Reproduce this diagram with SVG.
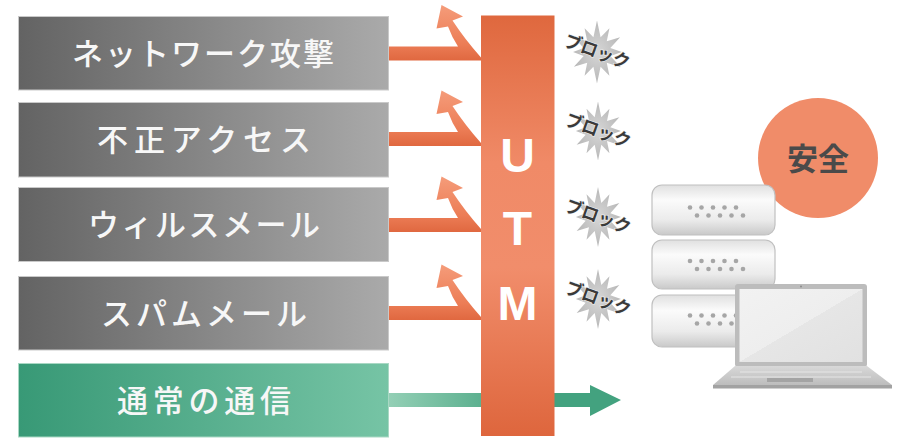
<svg xmlns="http://www.w3.org/2000/svg" xmlns:xlink="http://www.w3.org/1999/xlink" width="900" height="438" viewBox="0 0 900 438">
  <defs>
    <style>
      .threat { stroke: #c9c9c9; stroke-width: 1; }
      .label { font-family: "Noto Sans CJK JP", "Noto Sans", sans-serif; font-size: 31px; font-weight: 500; fill: #f7f7f7; text-anchor: middle; }
      .utm-letter { font-family: "Liberation Sans", Arial, sans-serif; font-size: 48px; font-weight: bold; fill: #ffffff; text-anchor: middle; }
      .block-text { font-family: "Noto Sans CJK JP", sans-serif; font-size: 18px; font-weight: bold; fill: #3a3a3a; stroke: #eeeeee; stroke-width: 1.2; paint-order: stroke; text-anchor: middle; }
      .burst { fill: url(#burstFill); }
      .server { fill: url(#serverFill); stroke: #c0c0c0; stroke-width: 1.2; }
      .led { fill: #a6a6a6; }
    </style>
    <linearGradient id="grayFill" x1="0" y1="0" x2="1" y2="0">
      <stop offset="0" stop-color="#636363"/>
      <stop offset="1" stop-color="#aaaaaa"/>
    </linearGradient>
    <linearGradient id="greenFill" x1="0" y1="0" x2="1" y2="0">
      <stop offset="0" stop-color="#389976"/>
      <stop offset="1" stop-color="#76c4a5"/>
    </linearGradient>
    <linearGradient id="utmFill" x1="0" y1="0" x2="0" y2="1">
      <stop offset="0" stop-color="#df683e"/>
      <stop offset="0.35" stop-color="#f08a67"/>
      <stop offset="0.6" stop-color="#f18d6b"/>
      <stop offset="1" stop-color="#de663d"/>
    </linearGradient>
    <linearGradient id="deflectFill" x1="0" y1="0" x2="0" y2="1">
      <stop offset="0" stop-color="#f59c7a"/>
      <stop offset="0.7" stop-color="#ec7d56"/>
      <stop offset="1" stop-color="#e06840"/>
    </linearGradient>
    <linearGradient id="passFill" x1="0" y1="0" x2="1" y2="0">
      <stop offset="0" stop-color="#93cfb5"/>
      <stop offset="1" stop-color="#5cb08f"/>
    </linearGradient>
    <radialGradient id="burstFill" cx="0.5" cy="0.5" r="0.5">
      <stop offset="0" stop-color="#d6d6d6"/>
      <stop offset="1" stop-color="#b8b8b8"/>
    </radialGradient>
    <linearGradient id="serverFill" x1="0" y1="0" x2="0" y2="1">
      <stop offset="0" stop-color="#e0e0e0"/>
      <stop offset="0.3" stop-color="#fbfbfb"/>
      <stop offset="0.7" stop-color="#ebebeb"/>
      <stop offset="1" stop-color="#c9c9c9"/>
    </linearGradient>
    <linearGradient id="screenFill" x1="0" y1="0" x2="1" y2="1">
      <stop offset="0" stop-color="#f2f2f2"/>
      <stop offset="0.5" stop-color="#eeeeee"/>
      <stop offset="0.5" stop-color="#e6e6e6"/>
      <stop offset="1" stop-color="#e1e1e1"/>
    </linearGradient>
    <linearGradient id="baseFill" x1="0" y1="0" x2="0" y2="1">
      <stop offset="0" stop-color="#d8d8d8"/>
      <stop offset="1" stop-color="#bdbdbd"/>
    </linearGradient>

    <!-- horizontal feed plus the arrow bouncing back up-left, drawn around y = 0 -->
    <path id="deflect" fill="url(#deflectFill)"
          d="M389,-7 H458 Q452,-16 448,-27 L436.5,-25 L441.5,-48.5 L463,-37 L452.5,-33 Q465,-14 481,4 V7 H389 Z"/>

    <!-- gray starburst behind each "blocked" tag -->
    <polygon id="burstShape" class="burst"
             points="0,-31 3.9,-14.5 13.5,-23.4 10.6,-10.6 25.1,-14.5 14.5,-3.9 27,0 14.5,3.9 26,15 10.6,10.6 13.5,23.4 3.9,14.5 0,31 -3.9,14.5 -13.5,23.4 -10.6,10.6 -25.1,14.5 -14.5,3.9 -26,0 -14.5,-3.9 -25.1,-14.5 -10.6,-10.6 -13.5,-23.4 -3.9,-14.5"/>

    <g id="led-rows">
      <circle class="led" cx="690" cy="0" r="2.3"/>
      <circle class="led" cx="701.5" cy="0" r="2.3"/>
      <circle class="led" cx="713" cy="0" r="2.3"/>
      <circle class="led" cx="724.5" cy="0" r="2.3"/>
      <circle class="led" cx="736" cy="0" r="2.3"/>
      <circle class="led" cx="697" cy="8" r="2.3"/>
      <circle class="led" cx="708.5" cy="8" r="2.3"/>
      <circle class="led" cx="720" cy="8" r="2.3"/>
      <circle class="led" cx="731.5" cy="8" r="2.3"/>
      <circle class="led" cx="743" cy="8" r="2.3"/>
    </g>
  </defs>

  <rect width="900" height="438" fill="#ffffff"/>

  <!-- connectors: threats bounce off, normal traffic passes through -->
  <g id="connectors">
    <use xlink:href="#deflect" href="#deflect" transform="translate(0,53.5)"/>
    <use xlink:href="#deflect" href="#deflect" transform="translate(0,139)"/>
    <use xlink:href="#deflect" href="#deflect" transform="translate(0,225)"/>
    <use xlink:href="#deflect" href="#deflect" transform="translate(0,313)"/>
    <rect x="389" y="393" width="94" height="14" fill="url(#passFill)"/>
    <path d="M553,393 H590 V385 L621,400 L590,416 V407 H553 Z" fill="#43a27f"/>
  </g>

  <!-- threat sources -->
  <g id="node-network-attack">
    <rect class="threat" x="18.5" y="16.5" width="370" height="73.5" fill="url(#grayFill)"/>
    <text class="label" x="203" y="64.5" textLength="262" lengthAdjust="spacing">ネットワーク攻撃</text>
  </g>
  <g id="node-unauthorized-access">
    <rect class="threat" x="18.5" y="102.5" width="370" height="74.5" fill="url(#grayFill)"/>
    <text class="label" x="204" y="151" textLength="214" lengthAdjust="spacing">不正アクセス</text>
  </g>
  <g id="node-virus-mail">
    <rect class="threat" x="18.5" y="187.5" width="370" height="74" fill="url(#grayFill)"/>
    <text class="label" x="204" y="236" textLength="232" lengthAdjust="spacing">ウィルスメール</text>
  </g>
  <g id="node-spam-mail">
    <rect class="threat" x="18.5" y="276.5" width="370" height="73.5" fill="url(#grayFill)"/>
    <text class="label" x="204" y="324.5" textLength="206" lengthAdjust="spacing">スパムメール</text>
  </g>
  <g id="node-normal-traffic">
    <rect x="18.5" y="363.5" width="370" height="73.5" fill="url(#greenFill)" stroke="#a9d8c4" stroke-width="1"/>
    <text class="label" x="204" y="411.5" textLength="174" lengthAdjust="spacing">通常の通信</text>
  </g>

  <!-- UTM gateway -->
  <g id="node-utm">
    <rect x="481" y="15.5" width="73.5" height="420.5" fill="url(#utmFill)"/>
    <text class="utm-letter" x="517.5" y="172">U</text>
    <text class="utm-letter" x="517.5" y="245">T</text>
    <text class="utm-letter" x="517.5" y="320">M</text>
  </g>

  <!-- blocked markers -->
  <g id="node-block-1" transform="translate(597,52)">
    <use xlink:href="#burstShape" href="#burstShape" transform="scale(0.92,1.02)"/>
    <text class="block-text" x="0" y="6" transform="rotate(20)" textLength="68" lengthAdjust="spacingAndGlyphs">ブロック</text>
  </g>
  <g id="node-block-2" transform="translate(598,131)">
    <use xlink:href="#burstShape" href="#burstShape" transform="scale(0.85,0.95)"/>
    <text class="block-text" x="0" y="6" transform="rotate(20)" textLength="68" lengthAdjust="spacingAndGlyphs">ブロック</text>
  </g>
  <g id="node-block-3" transform="translate(598,217)">
    <use xlink:href="#burstShape" href="#burstShape" transform="scale(0.85,0.97)"/>
    <text class="block-text" x="0" y="6" transform="rotate(20)" textLength="68" lengthAdjust="spacingAndGlyphs">ブロック</text>
  </g>
  <g id="node-block-4" transform="translate(598,299)">
    <use xlink:href="#burstShape" href="#burstShape" transform="scale(0.85,0.97)"/>
    <text class="block-text" x="0" y="6" transform="rotate(20)" textLength="68" lengthAdjust="spacingAndGlyphs">ブロック</text>
  </g>

  <!-- protected side -->
  <g id="node-safe">
    <circle cx="818" cy="158" r="60" fill="#f08c69"/>
    <text x="818" y="170" font-family="Noto Sans CJK JP, sans-serif" font-size="31" font-weight="bold" fill="#4a4a4a" text-anchor="middle">安全</text>
  </g>

  <g id="node-servers">
    <rect class="server" x="652" y="185" width="123" height="50" rx="10"/>
    <rect class="server" x="652" y="240" width="123" height="49" rx="10"/>
    <rect class="server" x="652" y="295" width="123" height="52" rx="10"/>
    <use xlink:href="#led-rows" href="#led-rows" transform="translate(0,207.5)"/>
    <use xlink:href="#led-rows" href="#led-rows" transform="translate(0,261)"/>
    <use xlink:href="#led-rows" href="#led-rows" transform="translate(0,315.5)"/>
  </g>

  <g id="node-laptop">
    <rect x="735" y="284" width="132" height="83" rx="3" fill="#bcbcbc"/>
    <rect x="739.5" y="289" width="123" height="73" fill="url(#screenFill)"/>
    <circle cx="801" cy="286.5" r="1" fill="#8c8c8c"/>
    <polygon points="735,366 867,366 892,385 713,385" fill="url(#baseFill)"/>
    <path d="M740,372 H862 M731,377 H871" stroke="#e6e6e6" stroke-width="1.2" fill="none"/>
    <rect x="767" y="378" width="46" height="4" fill="#a4a4a4"/>
    <rect x="713" y="385" width="179" height="3.5" fill="#a2a2a2"/>
  </g>
</svg>
